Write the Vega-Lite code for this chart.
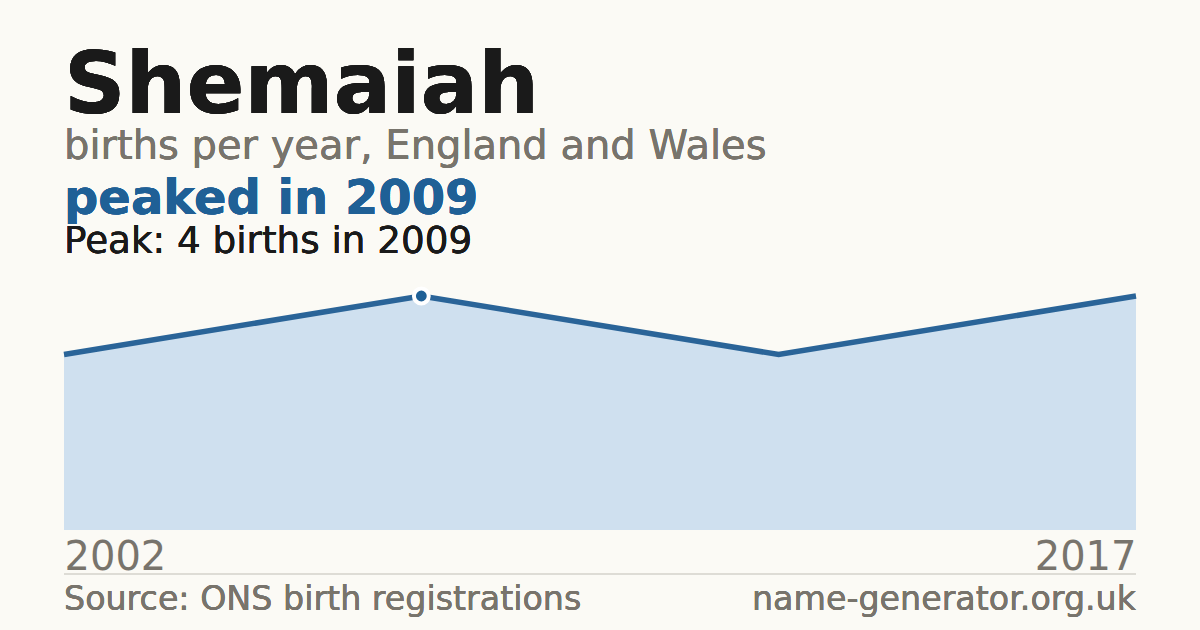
{
  "$schema": "https://vega.github.io/schema/vega-lite/v6.json",
  "width": 1072,
  "height": 234,
  "autosize": {"type": "none"},
  "padding": {"left": 64, "top": 296, "right": 64, "bottom": 100},
  "background": "#fbfaf5",
  "config": {
    "font": "DejaVu Sans",
    "view": {"stroke": null}
  },
  "data": {
    "values": [
      {"year": 2002, "births": 3},
      {"year": 2009, "births": 4},
      {"year": 2013, "births": 3},
      {"year": 2017, "births": 4}
    ]
  },
  "encoding": {
    "x": {
      "field": "year",
      "type": "ordinal",
      "scale": {"type": "point", "padding": 0},
      "axis": {
        "values": [2002, 2017],
        "title": null,
        "domain": false,
        "ticks": false,
        "grid": false,
        "labelAngle": 0,
        "labelFlush": true,
        "labelPadding": 39,
        "labelBaseline": "alphabetic",
        "labelFont": "DejaVu Sans",
        "labelFontSize": 40,
        "labelColor": "#78746c"
      }
    },
    "y": {
      "field": "births",
      "type": "quantitative",
      "scale": {"domain": [0, 4], "nice": false},
      "axis": null
    }
  },
  "layer": [
    {"mark": {"type": "area", "color": "#cfe0ef"}},
    {"mark": {"type": "line", "color": "#2a6498", "strokeWidth": 5.5}},
    {
      "transform": [{"filter": "datum.year == 2009"}],
      "mark": {"type": "point", "filled": true, "shape": "circle", "size": 220, "color": "#1f6096", "stroke": "#ffffff", "strokeWidth": 4, "opacity": 1}
    },
    {
      "mark": {"type": "text", "text": "Shemaiah", "font": "DejaVu Sans", "fontWeight": "bold", "fontSize": 85.5, "color": "#1a1a1a", "align": "left", "baseline": "alphabetic"},
      "encoding": {"x": {"value": 0}, "y": {"value": -183}}
    },
    {
      "mark": {"type": "text", "text": "births per year, England and Wales", "font": "DejaVu Sans", "fontSize": 40, "color": "#78746c", "align": "left", "baseline": "alphabetic"},
      "encoding": {"x": {"value": 0}, "y": {"value": -137}}
    },
    {
      "mark": {"type": "text", "text": "peaked in 2009", "font": "DejaVu Sans", "fontWeight": "bold", "fontSize": 48, "color": "#1f6096", "align": "left", "baseline": "alphabetic"},
      "encoding": {"x": {"value": 0}, "y": {"value": -82}}
    },
    {
      "mark": {"type": "text", "text": "Peak: 4 births in 2009", "font": "DejaVu Sans", "fontSize": 37.3, "color": "#1a1a1a", "align": "left", "baseline": "alphabetic"},
      "encoding": {"x": {"value": 0}, "y": {"value": -43}}
    },
    {
      "mark": {"type": "rule", "color": "#dcdad3", "strokeWidth": 1},
      "encoding": {"x": {"value": 0}, "x2": {"value": 1072}, "y": {"value": 278}}
    },
    {
      "mark": {"type": "text", "text": "Source: ONS birth registrations", "font": "DejaVu Sans", "fontSize": 33.3, "color": "#78746c", "align": "left", "baseline": "alphabetic"},
      "encoding": {"x": {"value": 0}, "y": {"value": 314}}
    },
    {
      "mark": {"type": "text", "text": "name-generator.org.uk", "font": "DejaVu Sans", "fontSize": 33.3, "color": "#78746c", "align": "right", "baseline": "alphabetic"},
      "encoding": {"x": {"value": 1072}, "y": {"value": 314}}
    }
  ]
}
